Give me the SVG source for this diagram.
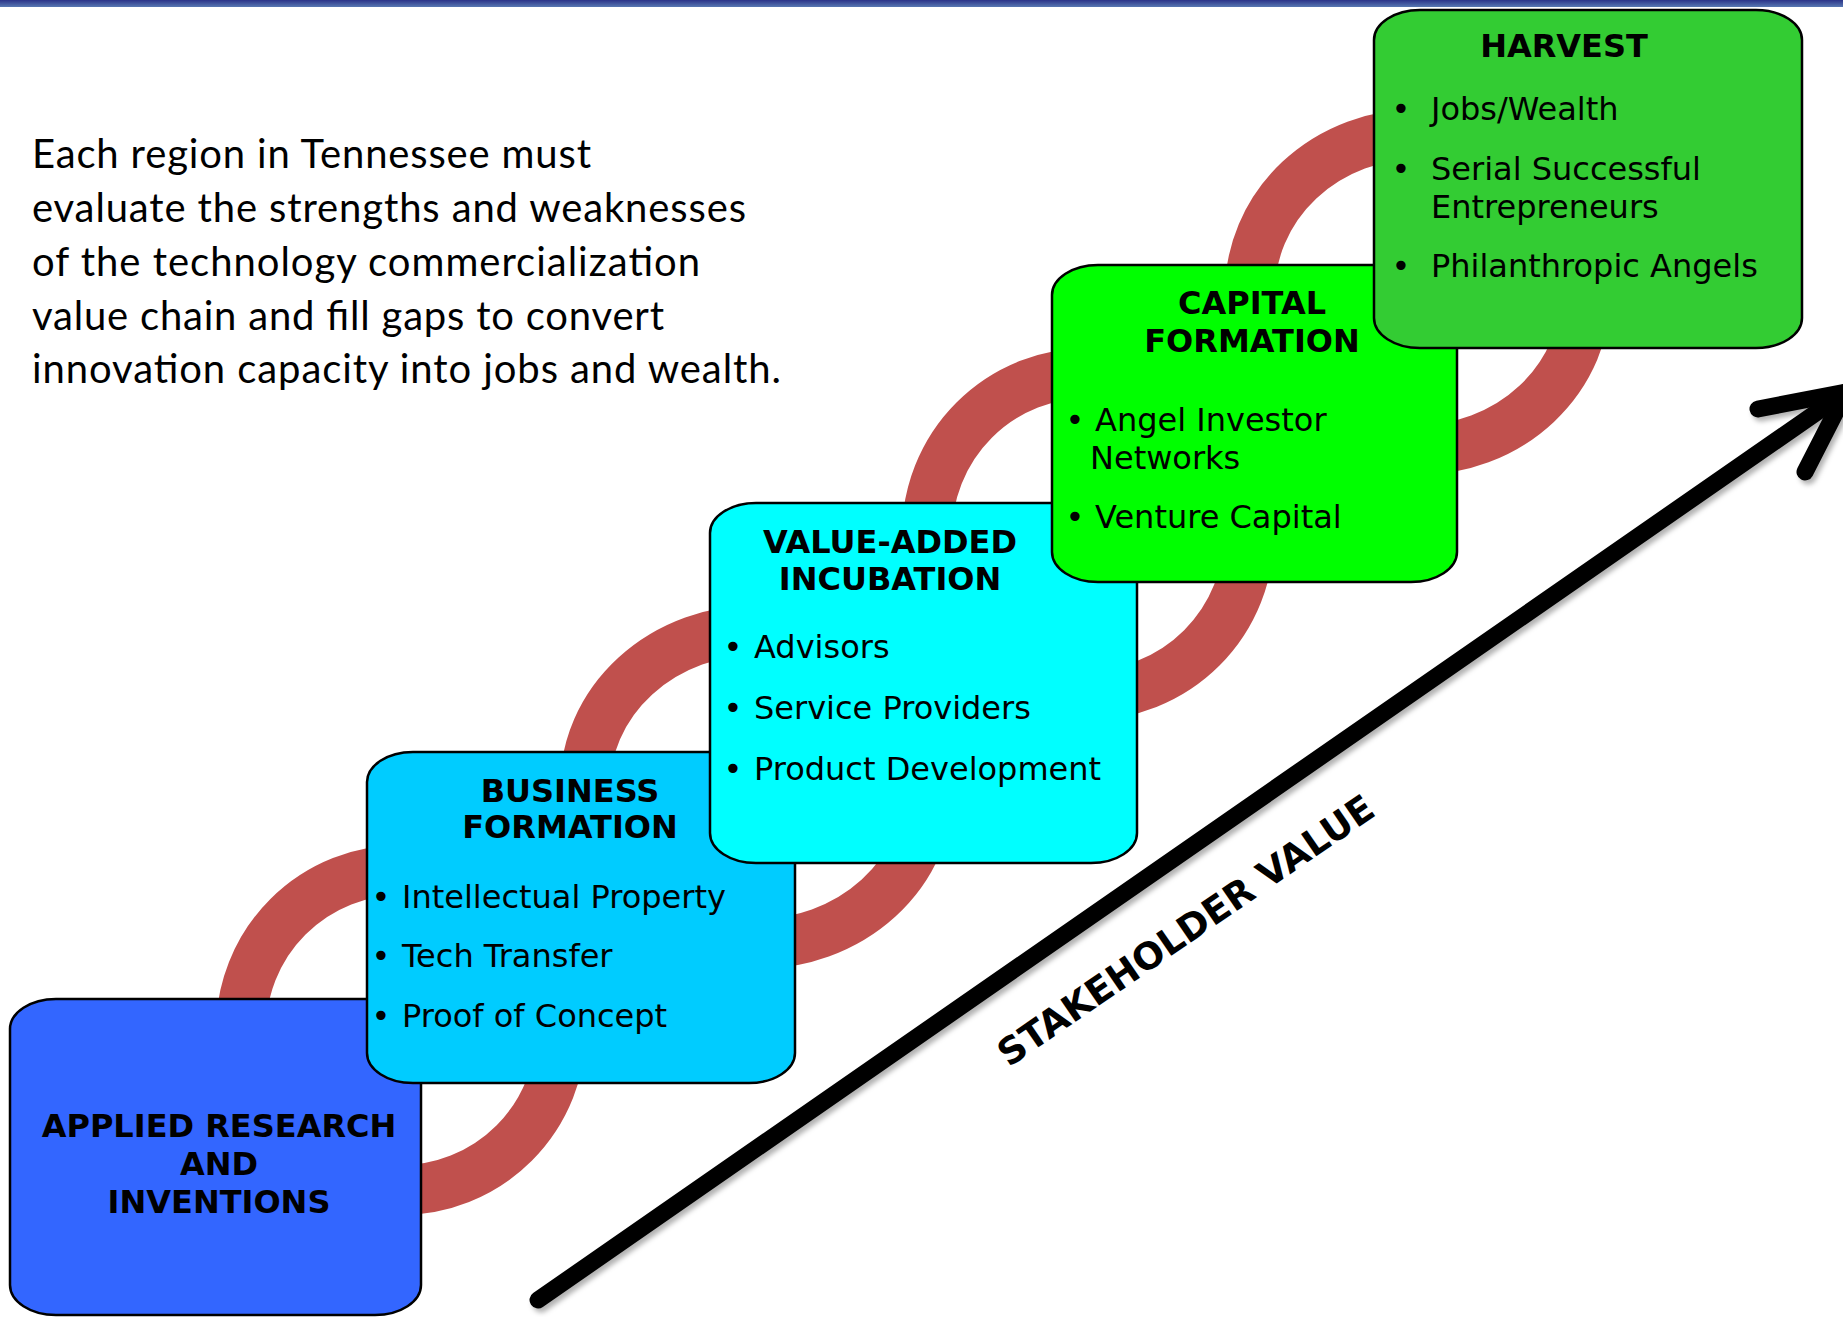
<svg xmlns="http://www.w3.org/2000/svg" width="1843" height="1317" viewBox="0 0 1843 1317">
  <defs>
    <linearGradient id="barGrad" x1="0" y1="0" x2="0" y2="1">
      <stop offset="0" stop-color="#2a3388"/>
      <stop offset="1" stop-color="#5878b2"/>
    </linearGradient>
    <filter id="arrowShadow" x="-5%" y="-5%" width="110%" height="110%">
      <feDropShadow dx="3" dy="4" stdDeviation="2.5" flood-color="#000" flood-opacity="0.3"/>
    </filter>
    <style>
      .box { stroke: #000; stroke-width: 2.5; }
      .link { fill: none; stroke: #C0504D; stroke-width: 50; }
      .head { font-family: "DejaVu Sans", Verdana, sans-serif; font-weight: bold; font-size: 32px; fill: #000; text-anchor: middle; }
      .item { font-family: "DejaVu Sans", Verdana, sans-serif; font-size: 32px; fill: #000; }
      .dot { font-family: "DejaVu Sans", Verdana, sans-serif; font-size: 32px; fill: #000; text-anchor: middle; }
      .intro { font-family: Lato, "Open Sans", sans-serif; font-size: 40px; fill: #000; }
      .axis { fill: none; stroke: #000; stroke-width: 17; stroke-linecap: round; stroke-linejoin: round; }
      .axisLabel { font-family: "DejaVu Sans", Verdana, sans-serif; font-weight: bold; font-size: 37px; fill: #000; text-anchor: middle; }
    </style>
  </defs>

  <rect x="0" y="0" width="1843" height="1317" fill="#fff"/>
  <!-- header bar -->
  <rect x="0" y="0" width="1843" height="7" fill="url(#barGrad)"/>

  <!-- introductory statement -->
  <g id="intro">
    <text class="intro" x="32" y="168" textLength="559" lengthAdjust="spacing">Each region in Tennessee must</text>
    <text class="intro" x="32" y="222" textLength="714" lengthAdjust="spacing">evaluate the strengths and weaknesses</text>
    <text class="intro" x="32" y="276" textLength="668" lengthAdjust="spacing">of the technology commercialization</text>
    <text class="intro" x="32" y="330" textLength="632" lengthAdjust="spacing">value chain and fill gaps to convert</text>
    <text class="intro" x="32" y="383" textLength="749" lengthAdjust="spacing">innovation capacity into jobs and wealth.</text>
  </g>

  <!-- chain links joining successive stages (drawn beneath the stages) -->
  <g id="connectors">
    <circle class="link" cx="401" cy="1030" r="160"/>
    <ellipse class="link" cx="757" cy="787" rx="172" ry="157"/>
    <circle class="link" cx="1088" cy="534" r="161"/>
    <ellipse class="link" cx="1418" cy="292" rx="168" ry="158"/>
  </g>

  <!-- stakeholder value axis -->
  <g id="value-axis" filter="url(#arrowShadow)">
    <line class="axis" x1="538" y1="1300" x2="1846" y2="392"/>
    <polyline class="axis" points="1758,409 1846,392 1805,472"/>
  </g>
  <text class="axisLabel" transform="translate(1193,941) rotate(-34.5)">STAKEHOLDER VALUE</text>

  <!-- stage 1 -->
  <g id="applied-research">
    <rect class="box" x="10" y="999" width="411" height="316" rx="46" ry="30" fill="#3366FF"/>
    <text class="head" x="219" y="1137">APPLIED RESEARCH</text>
    <text class="head" x="219" y="1175">AND</text>
    <text class="head" x="219" y="1213">INVENTIONS</text>
  </g>

  <!-- stage 2 -->
  <g id="business-formation">
    <rect class="box" x="367" y="752" width="428" height="331" rx="46" ry="30" fill="#00CCFF"/>
    <text class="head" x="570" y="802">BUSINESS</text>
    <text class="head" x="570" y="838">FORMATION</text>
    <text class="dot" x="381" y="908">•</text>
    <text class="item" x="402" y="908">Intellectual Property</text>
    <text class="dot" x="381" y="967">•</text>
    <text class="item" x="402" y="967">Tech Transfer</text>
    <text class="dot" x="381" y="1027">•</text>
    <text class="item" x="402" y="1027">Proof of Concept</text>
  </g>

  <!-- stage 3 -->
  <g id="value-added-incubation">
    <rect class="box" x="710" y="503" width="427" height="360" rx="46" ry="30" fill="#00FFFF"/>
    <text class="head" x="890" y="553">VALUE-ADDED</text>
    <text class="head" x="890" y="590">INCUBATION</text>
    <text class="dot" x="733" y="658">•</text>
    <text class="item" x="754" y="658">Advisors</text>
    <text class="dot" x="733" y="719">•</text>
    <text class="item" x="754" y="719">Service Providers</text>
    <text class="dot" x="733" y="780">•</text>
    <text class="item" x="754" y="780">Product Development</text>
  </g>

  <!-- stage 4 -->
  <g id="capital-formation">
    <rect class="box" x="1052" y="265" width="405" height="317" rx="46" ry="30" fill="#00FF00"/>
    <text class="head" x="1252" y="314">CAPITAL</text>
    <text class="head" x="1252" y="352">FORMATION</text>
    <text class="dot" x="1075" y="431">•</text>
    <text class="item" x="1095" y="431">Angel Investor</text>
    <text class="item" x="1090" y="469">Networks</text>
    <text class="dot" x="1075" y="528">•</text>
    <text class="item" x="1095" y="528">Venture Capital</text>
  </g>

  <!-- stage 5 -->
  <g id="harvest">
    <rect class="box" x="1374" y="10" width="428" height="338" rx="46" ry="30" fill="#33CC33"/>
    <text class="head" x="1564" y="57">HARVEST</text>
    <text class="dot" x="1401" y="120">•</text>
    <text class="item" x="1431" y="120">Jobs/Wealth</text>
    <text class="dot" x="1401" y="180">•</text>
    <text class="item" x="1431" y="180">Serial Successful</text>
    <text class="item" x="1431" y="218">Entrepreneurs</text>
    <text class="dot" x="1401" y="277">•</text>
    <text class="item" x="1431" y="277">Philanthropic Angels</text>
  </g>
</svg>
